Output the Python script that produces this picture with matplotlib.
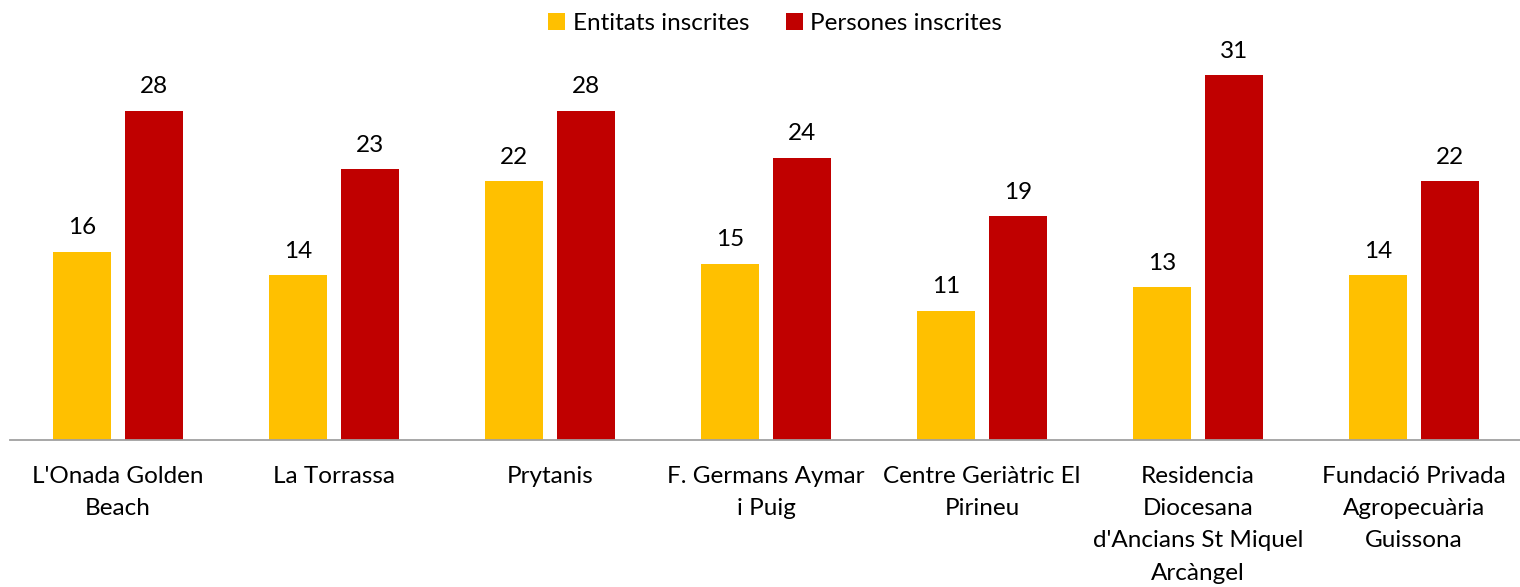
import matplotlib
matplotlib.use('Agg')
import matplotlib.pyplot as plt
import numpy as np

plt.rcParams['font.family'] = ['Lato', 'DejaVu Sans']

categories = ["L'Onada Golden\nBeach", "La Torrassa", "Prytanis", "F. Germans Aymar\ni Puig",
              "Centre Geriàtric El\nPirineu", "Residencia\nDiocesana\nd'Ancians St Miquel\nArcàngel",
              "Fundació Privada\nAgropecuària\nGuissona"]
entitats = [16, 14, 22, 15, 11, 13, 14]
persones = [28, 23, 28, 24, 19, 31, 22]

yellow = '#FFC000'
red = '#C00000'

fig = plt.figure(figsize=(15.2, 5.87), dpi=100)
ax = fig.add_axes([10 / 1520, 147 / 587, 1512 / 1520, 400 / 587])

x = np.arange(len(categories))
w = 0.268
off = 0.167
b1 = ax.bar(x - off, entitats, w, color=yellow, label='Entitats inscrites')
b2 = ax.bar(x + off, persones, w, color=red, label='Persones inscrites')

for bars, vals in ((b1, entitats), (b2, persones)):
    for b, v in zip(bars, vals):
        ax.text(b.get_x() + b.get_width() / 2, v + 1.15, str(v), ha='center', va='bottom',
                fontsize=17.5, color='#000000')

ax.set_xlim(-0.5, 6.5)
ax.set_ylim(0, 34)
ax.set_yticks([])
ax.set_xticks(x)
ax.set_xticklabels(categories, fontsize=17.5, linespacing=1.65, va='top')
ax.tick_params(axis='x', length=0, pad=19)
for s in ['top', 'right', 'left']:
    ax.spines[s].set_visible(False)
ax.spines['bottom'].set_color('#A0A0A0')
ax.spines['bottom'].set_linewidth(1.3)

fig.legend(loc='upper center', bbox_to_anchor=(0.51, 1.015), ncol=2, frameon=False,
           fontsize=17.5, handlelength=0.7, handleheight=0.7, handletextpad=0.3,
           columnspacing=1.5)

fig.savefig('out.png', dpi=100)
